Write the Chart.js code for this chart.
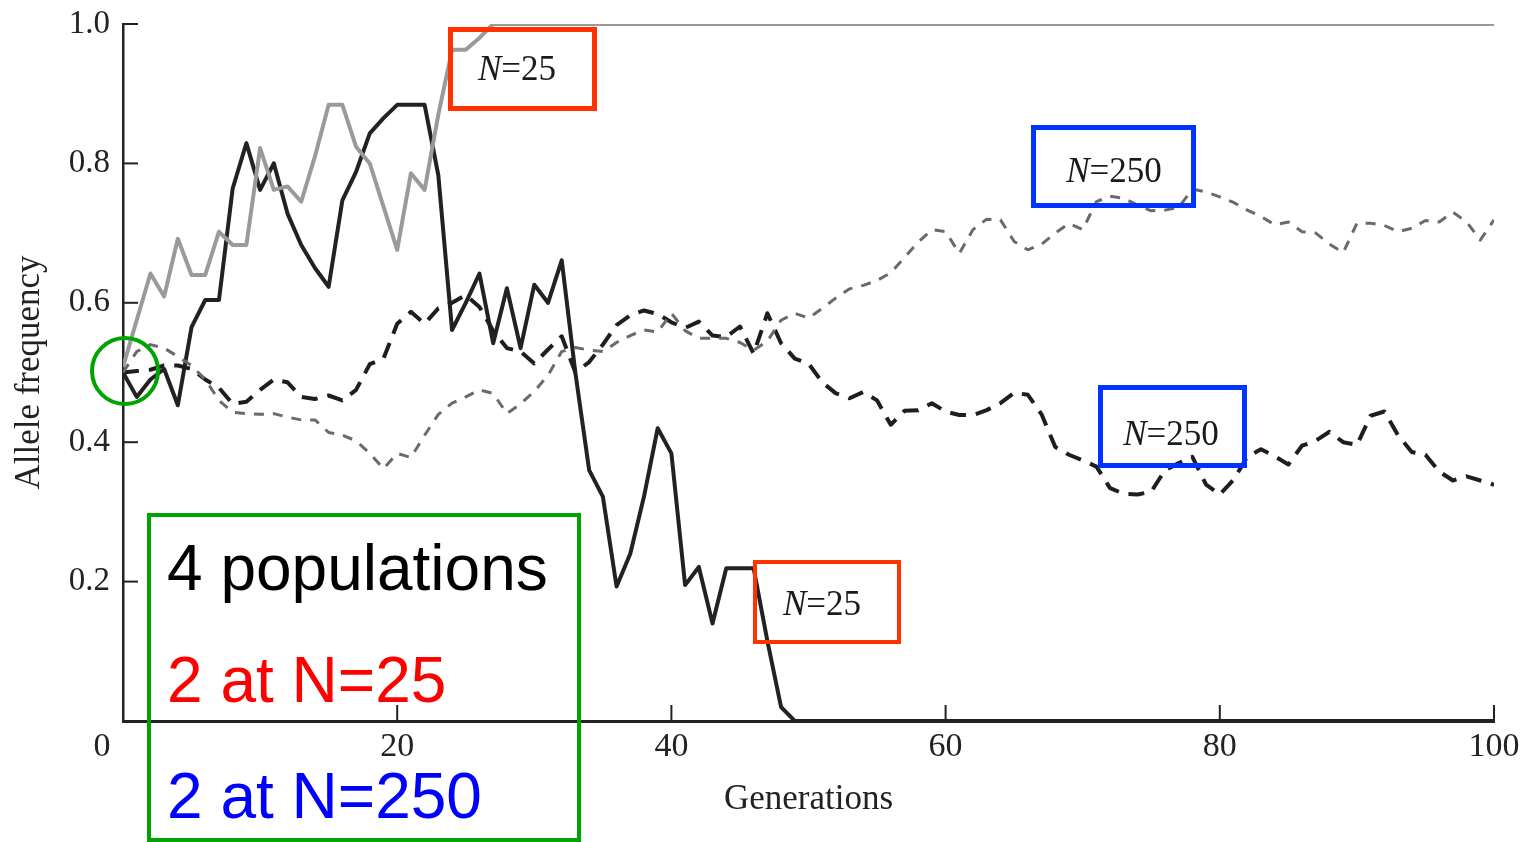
<!DOCTYPE html>
<html><head><meta charset="utf-8">
<style>html,body{margin:0;padding:0;background:#fff;overflow:hidden}#wrap{width:1521px;height:842px}</style>
<script src="https://cdn.jsdelivr.net/npm/chart.js@4.4.1/dist/chart.umd.min.js"></script>
</head><body><div id="wrap"><canvas id="c" width="1521" height="842"></canvas></div>
<script>
// ---- data ----
const generations = Array.from({length: 101}, (_, i) => i);
const xTickValues = [0, 20, 40, 60, 80, 100];
const yTickValues = [0.2, 0.4, 0.6, 0.8, 1.0];

// N=25, solid black (lost at ~49)
const popA_N25 = [
 0.50,0.465,0.49,0.505,0.453,0.565,0.604,0.604,0.764,0.829,
 0.762,0.80,0.728,0.683,0.65,0.623,0.747,0.788,0.843,0.865,
 0.884,0.884,0.884,0.783,0.561,0.60,0.642,0.542,0.621,0.535,
 0.626,0.60,0.661,0.499,0.36,0.322,0.193,0.24,0.322,0.42,
 0.384,0.195,0.221,0.14,0.219,0.219,0.219,0.115,0.02,0,
 0,0,0,0,0,0,0,0,0,0,
 0,0,0,0,0,0,0,0,0,0,
 0,0,0,0,0,0,0,0,0,0,
 0,0,0,0,0,0,0,0,0,0,
 0,0,0,0,0,0,0,0,0,0,
 0];
// N=25, grey dotted (fixed at ~27)
const popB_N25 = [
 0.508,0.575,0.642,0.609,0.692,0.64,0.64,0.702,0.683,0.683,
 0.822,0.762,0.767,0.745,0.81,0.884,0.884,0.824,0.80,0.738,
 0.676,0.786,0.762,0.87,0.963,0.963,0.98,1,1,1,
 1,1,1,1,1,1,1,1,1,1,
 1,1,1,1,1,1,1,1,1,1,
 1,1,1,1,1,1,1,1,1,1,
 1,1,1,1,1,1,1,1,1,1,
 1,1,1,1,1,1,1,1,1,1,
 1,1,1,1,1,1,1,1,1,1,
 1,1,1,1,1,1,1,1,1,1,
 1];
// N=250, black dashed
const popC_N250 = [
 0.50,0.502,0.504,0.51,0.51,0.505,0.49,0.478,0.455,0.458,
 0.475,0.49,0.486,0.465,0.462,0.467,0.46,0.475,0.512,0.52,
 0.57,0.587,0.57,0.592,0.60,0.611,0.594,0.56,0.535,0.53,
 0.513,0.533,0.552,0.50,0.515,0.54,0.568,0.582,0.589,0.584,
 0.572,0.564,0.573,0.553,0.551,0.566,0.527,0.585,0.542,0.52,
 0.513,0.486,0.47,0.463,0.472,0.46,0.425,0.445,0.446,0.456,
 0.444,0.439,0.439,0.446,0.456,0.471,0.468,0.44,0.393,0.382,
 0.374,0.365,0.334,0.326,0.325,0.329,0.36,0.37,0.379,0.339,
 0.325,0.346,0.379,0.39,0.38,0.368,0.395,0.402,0.415,0.40,
 0.396,0.438,0.444,0.41,0.386,0.382,0.358,0.345,0.351,0.345,
 0.339];
// N=250, grey dashed
const popD_N250 = [
 0.50,0.53,0.54,0.535,0.523,0.51,0.49,0.46,0.443,0.441,
 0.44,0.441,0.436,0.432,0.432,0.414,0.41,0.402,0.384,0.362,
 0.384,0.378,0.41,0.44,0.456,0.465,0.475,0.47,0.441,0.455,
 0.473,0.496,0.53,0.536,0.532,0.53,0.543,0.553,0.561,0.558,
 0.585,0.56,0.549,0.549,0.549,0.543,0.532,0.545,0.575,0.585,
 0.578,0.592,0.607,0.62,0.625,0.632,0.643,0.665,0.687,0.705,
 0.702,0.671,0.705,0.72,0.719,0.688,0.676,0.684,0.70,0.714,
 0.705,0.745,0.753,0.75,0.74,0.732,0.733,0.737,0.763,0.759,
 0.752,0.744,0.733,0.724,0.712,0.716,0.702,0.70,0.684,0.672,
 0.714,0.714,0.711,0.702,0.707,0.718,0.716,0.73,0.716,0.69,
 0.719];

const toPts = arr => generations.map((g, i) => ({x: g, y: arr[i]}));

const SERIF = '"Liberation Serif", "Times New Roman", serif';
const SANS = '"Liberation Sans", Arial, sans-serif';
const XT_FONT = 34, XT_PAD = 6;

const overlay = {
  id: 'overlay',
  afterDraw(chart) {
    const {ctx, scales: {x, y}} = chart;
    ctx.save();
    // inward tick marks
    ctx.strokeStyle = '#222'; ctx.lineWidth = 2;
    yTickValues.forEach(v => {
      const py = y.getPixelForValue(v);
      ctx.beginPath(); ctx.moveTo(x.left, py); ctx.lineTo(x.left + 15, py); ctx.stroke();
    });
    xTickValues.slice(1).forEach(v => {
      const px = x.getPixelForValue(v);
      ctx.beginPath(); ctx.moveTo(px, y.bottom); ctx.lineTo(px, y.bottom - 16); ctx.stroke();
    });
    // corner "0" label
    ctx.fillStyle = '#222';
    ctx.font = XT_FONT + 'px ' + SERIF;
    ctx.textAlign = 'center'; ctx.textBaseline = 'middle';
    ctx.fillText('0', x.getPixelForValue(0) - 21, x.top + XT_PAD + XT_FONT * 0.6);

    // annotation boxes
    const box = (x0, y0, x1, y1, col, lw) => {
      ctx.strokeStyle = col; ctx.lineWidth = lw;
      ctx.strokeRect(x0 + lw / 2, y0 + lw / 2, x1 - x0 - lw, y1 - y0 - lw);
    };
    const nLabel = (txt, cx, base) => {
      ctx.fillStyle = '#1a1a1a'; ctx.textBaseline = 'alphabetic'; ctx.textAlign = 'left';
      ctx.font = 'italic 35px ' + SERIF;
      const wN = ctx.measureText('N').width;
      ctx.font = '35px ' + SERIF;
      const wR = ctx.measureText(txt).width;
      const sx = cx - (wN + wR) / 2;
      ctx.font = 'italic 35px ' + SERIF;
      ctx.fillText('N', sx, base);
      ctx.font = '35px ' + SERIF;
      ctx.fillText(txt, sx + wN, base);
    };
    const RED = '#ff3300', BLUE = '#0033ff', GREEN = '#00a400';
    box(448, 27, 597, 111, RED, 5);  nLabel('=25', 517, 80);
    box(753, 560, 901, 644, RED, 4); nLabel('=25', 822, 615);
    box(1031, 125, 1196, 208, BLUE, 5); nLabel('=250', 1114, 182);
    box(1098, 385, 1247, 468, BLUE, 5); nLabel('=250', 1171, 445);

    // green box with summary text
    box(147, 513, 581, 842, GREEN, 4);
    ctx.font = '64px ' + SANS; ctx.textAlign = 'left'; ctx.textBaseline = 'alphabetic';
    ctx.fillStyle = '#000'; ctx.fillText('4 populations', 167, 590);
    ctx.fillStyle = '#ff0000'; ctx.fillText('2 at N=25', 167, 702);
    ctx.fillStyle = '#0000ff'; ctx.fillText('2 at N=250', 167, 818);

    // green circle at the starting frequency
    ctx.strokeStyle = GREEN; ctx.lineWidth = 4;
    ctx.beginPath(); ctx.arc(125, 371, 33, 0, Math.PI * 2); ctx.stroke();
    ctx.restore();
  }
};

new Chart(document.getElementById('c'), {
  type: 'line',
  data: {
    datasets: [
      {label: 'N=250 (grey)', data: toPts(popD_N250), borderColor: '#6a6a6a', borderWidth: 3, borderDash: [10, 9]},
      {label: 'N=25 (grey)', data: toPts(popB_N25), borderColor: '#9a9a9a', borderWidth: 4},
      {label: 'N=250 (black)', data: toPts(popC_N250), borderColor: '#1e1e1e', borderWidth: 4, borderDash: [16, 10]},
      {label: 'N=25 (black)', data: toPts(popA_N25), borderColor: '#222', borderWidth: 4}
    ]
  },
  options: {
    responsive: false, animation: false,
    layout: {padding: {top: 24, right: 27, left: 0, bottom: 0}},
    plugins: {legend: {display: false}, tooltip: {enabled: false}},
    elements: {point: {radius: 0}, line: {tension: 0, borderJoinStyle: 'round', borderCapStyle: 'butt'}},
    scales: {
      x: {
        type: 'linear', min: 0, max: 100,
        afterFit: s => { s.height = 121; s.paddingLeft = 0; s.paddingRight = 0; },
        grid: {display: false, drawTicks: false},
        border: {display: true, color: '#222', width: 3},
        ticks: {stepSize: 20, padding: XT_PAD, autoSkip: false, maxRotation: 0,
          font: {family: SERIF, size: XT_FONT}, color: '#222',
          callback: v => v === 0 ? '' : String(v)},
        title: {display: true, text: 'Generations', color: '#222',
          font: {family: SERIF, size: 35}, padding: {top: 0, bottom: 21}}
      },
      y: {
        min: 0, max: 1,
        afterFit: s => { s.width = 123; s.paddingTop = 0; s.paddingBottom = 0; },
        grid: {display: false, drawTicks: false},
        border: {display: true, color: '#222', width: 2.5},
        ticks: {stepSize: 0.2, padding: 13, font: {family: SERIF, size: 33}, color: '#222',
          callback: v => (Math.abs(v) < 1e-9 ? '' : (Math.round(v * 10) / 10).toFixed(1))},
        title: {display: true, text: 'Allele frequency', color: '#222',
          font: {family: SERIF, size: 35}, padding: {top: 9, bottom: 0}}
      }
    }
  },
  plugins: [overlay]
});
</script>
</body></html>
